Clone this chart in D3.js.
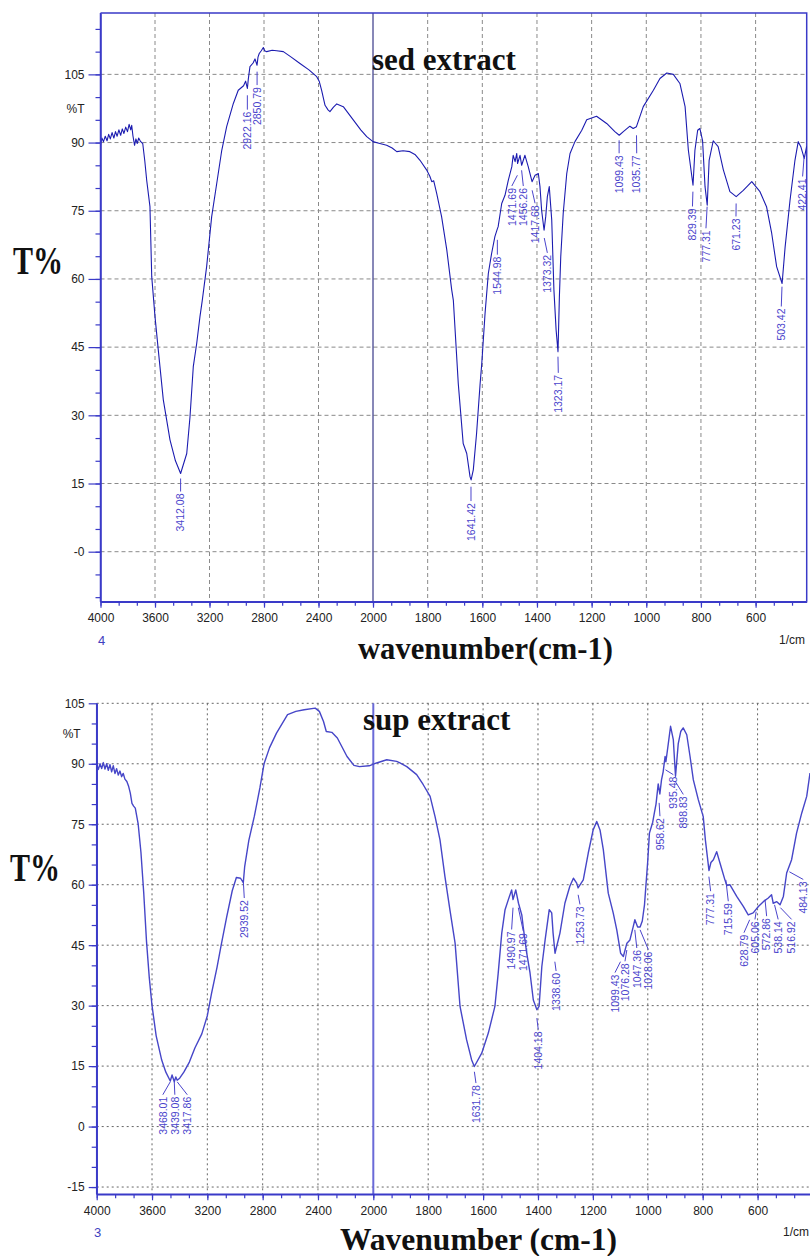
<!DOCTYPE html>
<html>
<head>
<meta charset="utf-8">
<script src="https://cdn.jsdelivr.net/npm/d3@7/dist/d3.min.js"></script>
<style>
  body { margin: 0; background: #fff; }
  svg { display: block; }
  .tick text { font-family: "Liberation Sans", Arial, sans-serif; font-size: 12px; fill: #222; }
</style>
</head>
<body>
<svg id="chart" width="810" height="1256"></svg>
<script>
// ---- data: [wavenumber, %T] ----
var sedSpectrum = [
  [4000,89.5],[3990,91],[3978,90.2],[3965,91.4],[3952,90.4],[3940,91.8],[3928,90.8],[3915,92.2],[3902,91],
  [3890,92.4],[3878,91.4],[3865,92.8],[3852,91.6],[3840,93],[3828,92],[3815,93.4],[3802,92.4],[3790,94],
  [3778,92.8],[3771,93.8],[3762,91.5],[3750,89.4],[3740,90.8],[3730,89.8],[3720,91],[3705,90.2],[3690,89.8],
  [3675,86],[3661,81.7],[3637,75.9],[3624,60.5],[3600,51.7],[3576,44.4],[3539,33.4],[3490,24.6],[3450,20],
  [3412,17.2],[3367,21.6],[3343,29.7],[3319,40.7],[3294,45.8],[3270,51.7],[3253,55.3],[3221,62.7],[3184,73.7],
  [3147,81],[3110,88.3],[3074,93.5],[3025,98.6],[2989,101.5],[2950,102.5],[2935,103.5],[2922,101.9],[2915,104],
  [2903,106.7],[2880,107.5],[2866,108.4],[2851,107],[2844,108.8],[2835,109.6],[2820,110.2],[2805,110.9],
  [2795,110.2],[2780,110],[2740,110.3],[2707,110.2],[2658,110],[2600,108.8],[2536,107.4],[2470,106],
  [2413,104.5],[2395,103.5],[2377,101.5],[2352,98.2],[2330,97.2],[2316,96.8],[2290,97.8],[2266,98.5],
  [2218,97.9],[2145,95],[2090,92.8],[2046,91.3],[2000,90.2],[1975,89.8],[1950,89.4],[1930,88.8],[1913,88],
  [1890,88.2],[1865,88],[1845,87.3],[1828,86.1],[1804,84],[1792,82.6],[1785,81.4],[1778,81.6],[1767,78.8],
  [1749,73.7],[1730,66.4],[1712,57.6],[1706,55.3],[1688,37],[1670,23.8],[1657,21.6],[1645,16.5],[1641,15.8],
  [1633,18],[1621,26],[1608,37],[1602,41.4],[1590,52.4],[1578,61.2],[1566,65.6],[1554,69.3],[1545,71],
  [1542,71.5],[1529,76.6],[1517,78.4],[1505,81.7],[1492,84.7],[1487,87.2],[1480,85.8],[1474,87.6],[1471,85.4],
  [1462,87.2],[1456,85],[1444,87.2],[1432,84.7],[1418,81.4],[1407,82.8],[1395,83.2],[1389,80.3],[1383,75.1],
  [1374,70.7],[1368,73.7],[1362,78.1],[1355,80.3],[1346,73],[1338,57.6],[1330,48.8],[1323,44],[1318,56],
  [1313,64.9],[1304,74.4],[1291,83.2],[1279,87.6],[1261,90.2],[1236,92.7],[1218,95],[1182,95.8],[1145,94.2],
  [1115,92.4],[1099,91.6],[1084,92.4],[1060,93.6],[1048,93.1],[1036,93.5],[1011,97.9],[974,101.5],[950,104.1],
  [925,105.3],[901,105],[877,103],[858,97.9],[846,88.3],[829,80.6],[822,88.3],[812,92.7],[804,93.1],[794,90.4],
  [785,80.3],[777,76.2],[770,86.1],[755,90.4],[737,89.1],[718,84],[694,79.2],[671,78.1],[645,79.5],[614,81.4],
  [584,79.2],[560,75.9],[541,70],[523,62.7],[503,59],[492,67],[474,77.3],[456,86.1],[444,90.2],[434,89],
  [422,86.5],[413,89.2]
];

var supSpectrum = [
  [4000,89.8],[3988,88.6],[3976,90],[3964,88.8],[3952,90.3],[3940,88.7],[3928,90],[3916,88.4],[3904,89.8],
  [3892,88],[3880,89.5],[3868,87.6],[3856,88.8],[3844,87.2],[3832,88.2],[3820,86.8],[3808,87.6],[3796,86.2],
  [3782,85.6],[3770,84.5],[3757,82.7],[3745,80.2],[3733,79.5],[3721,79],[3700,75],[3680,68],[3660,58],
  [3640,46],[3620,37],[3600,30],[3570,22.5],[3530,16.5],[3500,13.5],[3468,11.3],[3455,12.8],[3439,11.1],
  [3428,12.3],[3418,11.5],[3400,12],[3370,13.5],[3330,16],[3290,19.5],[3240,23],[3200,27.5],[3170,33],
  [3130,39.5],[3100,45],[3060,52],[3020,58.5],[2990,61.8],[2960,61.6],[2940,60.5],[2930,64.5],[2900,71],
  [2860,77],[2820,84],[2790,90],[2750,94],[2700,97.6],[2620,102.2],[2560,103],[2500,103.4],[2420,103.8],
  [2390,103],[2360,100.5],[2340,98],[2300,97.8],[2260,96.4],[2190,91.8],[2140,89.6],[2100,89.3],[2030,89.5],
  [1988,90.2],[1951,91],[1915,90.6],[1903,90.2],[1878,89.3],[1842,87.3],[1818,84.8],[1793,81.9],[1775,76.9],
  [1757,71.1],[1739,62],[1721,53.8],[1702,45.5],[1684,29.8],[1660,21.5],[1642,16.6],[1632,14.9],[1605,18.2],
  [1581,23.2],[1557,29.8],[1545,38],[1532,48],[1520,53.8],[1508,56.3],[1496,58.7],[1491,56.3],[1481,58.7],
  [1471,55.4],[1459,52.5],[1454,49.6],[1441,43],[1429,38.1],[1417,31.4],[1404,29],[1396,29.8],[1386,39.7],
  [1374,46.3],[1359,53.8],[1350,53],[1345,48],[1338,43],[1320,48],[1302,55.4],[1284,59.6],[1271,61.6],
  [1259,60.4],[1254,59.2],[1235,61.2],[1217,67.8],[1199,73.6],[1186,75.7],[1174,73.6],[1162,68.7],[1144,57.9],
  [1126,53],[1113,48.8],[1099,43],[1089,42.2],[1076,45.5],[1065,46.3],[1053,49.6],[1047,51.3],[1037,49.5],
  [1028,49.5],[1020,51],[1012,55],[1000,66],[994,72.8],[982,75.5],[976,77.8],[970,80],[962,85],[956,82.5],
  [950,86],[944,88],[937,91.8],[934,90.5],[925,95.1],[917,99.3],[907,96],[899,86.9],[889,95],[880,98],
  [871,98.9],[858,97.2],[846,91.8],[834,86],[816,81.1],[798,76.9],[790,71],[777,63.5],[770,65.5],[761,66.2],
  [749,68.2],[737,65.4],[719,61.2],[712,59.8],[701,60],[676,57.1],[652,54.6],[634,52.5],[616,53],[597,54.6],
  [579,55.8],[561,56.7],[549,57.5],[543,55.4],[530,55.8],[518,55],[506,57.1],[494,62.9],[476,66.2],[458,72.8],
  [439,77.8],[421,81.9],[409,87.7]
];

// peak labels: [label, wavenumber where the text stands, %T at top of leader, %T at top of text]
var sedPeaks = [
  ["2922.16",2922.16,100.4,96.8],["2850.79",2850.79,105.6,102.2],["3412.08",3412.08,16.1,12.8],
  ["1641.42",1641.42,14.3,10.7],["1544.98",1544.98,68.6,64.9],["1471.69",1492,82.8,80],
  ["1456.26",1450,83.9,80],["1417.68",1407,79.5,76.2],["1373.32",1362,69,65.3],["1323.17",1322,42.9,38.9],
  ["1099.43",1099.43,90.5,87.2],["1035.77",1035,91.6,87.2],["829.39",831,79.2,75.5],["777.31",781.6,75.9,70.7],
  ["671.23",671.8,76.6,73.3],["503.42",506,58.3,53.5],["422.41",428,86.9,82.1]
];
var supPeaks = [
  ["2939.52",2933,60.7,56.2],["3468.01",3522,11.1,7.4],["3439.08",3435,11.1,7.4],["3417.86",3345,11.1,7.4],
  ["1631.78",1626,13.6,10.3],["1404.18",1399,26.9,23.6],["1338.60",1334,40.9,38.1],["1490.97",1496,54.3,48.4],
  ["1471.69",1453.6,54.3,48],["1253.73",1247,57.5,54.6],["1099.43",1119.5,40.9,37.7],["1076.28",1083,43.8,40.5],
  ["1047.36",1040,48.8,43.8],["1028.06",998,48.8,43.4],["958.62",955.6,80.3,76.5],["935.48",907,88.5,86.8],
  ["898.83",870.6,85.5,81.9],["777.31",771,62,57.9],["715.59",706.7,61.2,55.4],["628.79",649.6,51.3,47.6],
  ["605.06",609.5,53.3,50.9],["572.86",567,56.3,51.7],["538.14",525,55,50.9],["516.92",476,54.3,50.9],
  ["484.13",433.5,63.2,60.8]
];

var xTicks = [4000,3600,3200,2800,2400,2000,1800,1600,1400,1200,1000,800,600];
var sedYTicks = [105,90,75,60,45,30,15,0];
var supYTicks = [105,90,75,60,45,30,15,0,-15];

var svg = d3.select("#chart");

function drawPanel(p) {
  var g = svg.append("g");
  var x = d3.scaleLinear().domain([4000, 2000, p.xEnd]).range([p.left, p.x2000, p.right]);
  var y = d3.scaleLinear().domain([p.yMin, p.yMax]).range([p.bottom, p.top]);

  // grid
  g.selectAll(".hg").data(p.yTicks).enter().append("line")
    .attr("x1", p.left).attr("x2", p.right)
    .attr("y1", function (d) { return y(d); }).attr("y2", function (d) { return y(d); })
    .attr("stroke", p.gridColor).attr("stroke-dasharray", p.dash).attr("stroke-width", 1);
  g.selectAll(".vg").data(xTicks.filter(function (d) { return d != 4000 && d != 2000; })).enter().append("line")
    .attr("x1", function (d) { return x(d); }).attr("x2", function (d) { return x(d); })
    .attr("y1", p.top).attr("y2", p.bottom)
    .attr("stroke", p.gridColor).attr("stroke-dasharray", p.dash).attr("stroke-width", 1);

  // scale break at 2000
  g.append("line").attr("x1", x(2000)).attr("x2", x(2000)).attr("y1", p.top).attr("y2", p.bottom)
    .attr("stroke", p.breakColor).attr("stroke-width", p.breakWidth);

  if (p.frame) {
    g.append("path")
      .attr("d", "M" + p.left + "," + p.top + "H" + p.right + "V" + p.bottom)
      .attr("fill", "none").attr("stroke", p.axisColor).attr("stroke-width", 1.5);
  }

  // spectrum
  var clipId = "clip" + p.name;
  svg.append("clipPath").attr("id", clipId).append("rect")
    .attr("x", p.left).attr("y", p.top - 2).attr("width", p.right - p.left).attr("height", p.bottom - p.top + 2);
  var line = d3.line().x(function (d) { return x(d[0]); }).y(function (d) { return y(d[1]); });
  g.append("path").datum(p.spectrum).attr("d", line).attr("clip-path", "url(#" + clipId + ")")
    .attr("fill", "none").attr("stroke", p.lineColor).attr("stroke-width", p.lineWidth)
    .attr("stroke-linejoin", "round");

  // minor ticks
  var minorX = d3.range(4000, 2000, -400 / 3).concat(d3.range(2000, p.xEnd, -200 / 3));
  var minorY = d3.range(p.minorStart, p.yMax, 5);
  var axMinorX = g.append("g").attr("transform", "translate(0," + p.bottom + ")")
    .call(d3.axisBottom(x).tickValues(minorX).tickFormat("").tickSize(4).tickSizeOuter(0));
  var axMinorY = g.append("g").attr("transform", "translate(" + p.left + ",0)")
    .call(d3.axisLeft(y).tickValues(minorY).tickFormat("").tickSize(5).tickSizeOuter(0));

  // main axes
  var axX = g.append("g").attr("transform", "translate(0," + p.bottom + ")")
    .call(d3.axisBottom(x).tickValues(xTicks).tickFormat(d3.format("d")).tickSize(6).tickPadding(6).tickSizeOuter(0));
  var axY = g.append("g").attr("transform", "translate(" + p.left + ",0)")
    .call(d3.axisLeft(y).tickValues(p.yTicks).tickSize(p.yTickLen).tickPadding(4).tickSizeOuter(0)
      .tickFormat(function (d) { return (d === 0 && p.negZero) ? "-0" : d; }));
  [axMinorX, axMinorY, axX, axY].forEach(function (a) {
    a.selectAll("path.domain").attr("stroke", p.axisColor).attr("stroke-width", 1.5);
    a.selectAll(".tick line").attr("stroke", p.axisColor).attr("stroke-width", 1.2);
  });
  axX.select("path.domain").attr("d", "M" + p.left + ",0H" + p.right);
  axY.select("path.domain").attr("d", "M0," + p.top + "V" + p.bottom);

  // %T unit label
  g.append("text").attr("x", p.left - 16).attr("y", y(97.5)).attr("dy", "0.35em").attr("text-anchor", "end")
    .style("font-family", "Liberation Sans, Arial, sans-serif").style("font-size", "12px").attr("fill", "#222")
    .text("%T");

  // peak labels
  var pk = g.selectAll(".peak").data(p.peaks).enter().append("g");
  pk.append("line")
    .attr("x1", function (d) { return x(+d[0]); }).attr("y1", function (d) { return y(d[2]); })
    .attr("x2", function (d) { return x(d[1]); }).attr("y2", function (d) { return y(d[3]) - 2; })
    .attr("stroke", p.labelColor).attr("stroke-width", 1);
  pk.append("text")
    .attr("transform", function (d) { return "translate(" + x(d[1]) + "," + y(d[3]) + ") rotate(-90)"; })
    .attr("text-anchor", "end").attr("dy", "0.36em")
    .style("font-family", "Liberation Sans, Arial, sans-serif").style("font-size", "10.5px")
    .attr("fill", p.labelColor).text(function (d) { return d[0]; });

  // titles
  var serif = "Liberation Serif, Times New Roman, serif";
  g.append("text").attr("x", p.titleX).attr("y", p.titleY).style("font-family", serif)
    .style("font-weight", "bold").style("font-size", "31px").attr("fill", "#111").text(p.title);
  g.append("text").attr("transform", "translate(" + p.tX + "," + p.tY + ") scale(1,1.3)")
    .style("font-family", serif).style("font-weight", "bold").style("font-size", "30px")
    .attr("fill", "#111").text("T%");
  g.append("text").attr("x", p.xlabX).attr("y", p.xlabY).style("font-family", serif)
    .style("font-weight", "bold").style("font-size", "31px").attr("fill", "#111")
    .attr("textLength", p.xlabLen).attr("lengthAdjust", "spacingAndGlyphs").text(p.xlab);
  g.append("text").attr("x", p.left + 1).attr("y", p.bottom + 43).attr("text-anchor", "middle")
    .style("font-family", "Liberation Sans, Arial, sans-serif").style("font-size", "13px")
    .attr("fill", "#4040c0").text(p.fileNo);
  g.append("text").attr("x", p.cmX).attr("y", p.bottom + 42)
    .style("font-family", "Liberation Sans, Arial, sans-serif").style("font-size", "12px")
    .attr("fill", "#222").text("1/cm");
}

drawPanel({
  name: "sed", spectrum: sedSpectrum, peaks: sedPeaks, yTicks: sedYTicks,
  left: 100.5, right: 806.7, top: 13, bottom: 601.7, x2000: 373, xEnd: 413,
  yMin: -11, yMax: 118.5, minorStart: -10, yTickLen: 12, negZero: true, frame: true,
  axisColor: "#3a3ac8", gridColor: "#8a8a8a", dash: "4,3", breakColor: "#101070", breakWidth: 1,
  lineColor: "#1c1cb0", lineWidth: 1.1, labelColor: "#4a44cc",
  title: "sed extract", titleX: 372, titleY: 70, tX: 13, tY: 274,
  xlab: "wavenumber(cm-1)", xlabX: 358, xlabY: 659, xlabLen: 255, fileNo: "4", cmX: 779
});

drawPanel({
  name: "sup", spectrum: supSpectrum, peaks: supPeaks, yTicks: supYTicks,
  left: 96.7, right: 810, top: 703.3, bottom: 1194.3, x2000: 373.3, xEnd: 409,
  yMin: -16.8, yMax: 105, minorStart: -15, yTickLen: 8, negZero: false, frame: false,
  axisColor: "#3a3ac8", gridColor: "#666", dash: "2,3", breakColor: "#6a6ad8", breakWidth: 2,
  lineColor: "#4646c8", lineWidth: 1.4, labelColor: "#4a44cc",
  title: "sup extract", titleX: 363, titleY: 730, tX: 10, tY: 881,
  xlab: "Wavenumber (cm-1)", xlabX: 340, xlabY: 1250, xlabLen: 277, fileNo: "3", cmX: 783
});
</script>
</body>
</html>
